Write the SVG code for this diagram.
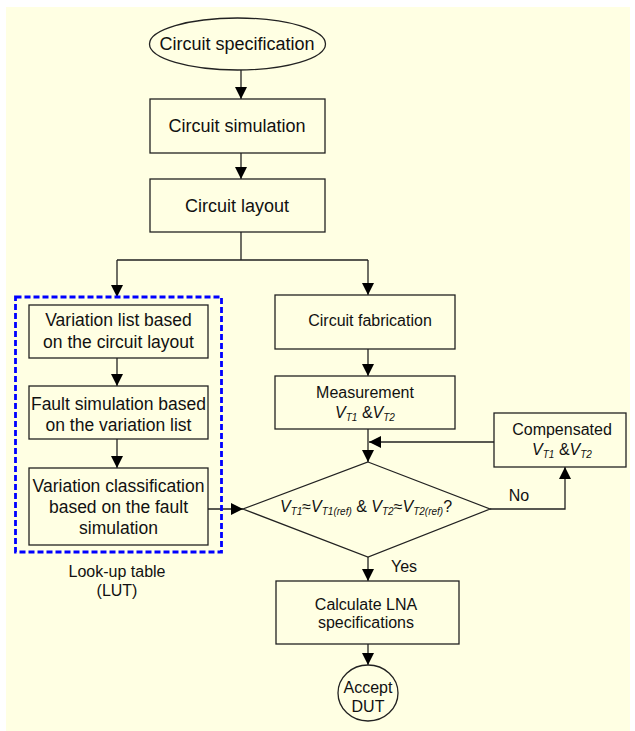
<svg xmlns="http://www.w3.org/2000/svg" width="635" height="731" viewBox="0 0 635 731">
<defs>
<marker id="arr" markerUnits="userSpaceOnUse" markerWidth="12" markerHeight="12" refX="12" refY="6" orient="auto">
<path d="M0,0 L12,6 L0,12 z" fill="#000"/>
</marker>
<style>
.s{fill:none;stroke:#222;stroke-width:1.3}
.c{fill:none;stroke:#222;stroke-width:1.3}
.a{marker-end:url(#arr)}
text{font-family:"Liberation Sans",Arial,sans-serif;fill:#111;text-anchor:middle}
.t18{font-size:18px}
.t17{font-size:17.5px}
.t16{font-size:16px}
.v{font-style:italic}
.sub{font-size:10px;font-style:italic}
</style>
</defs>
<rect x="6" y="7" width="624" height="724" fill="#FFFFE3"/>
<g id="connectors">
<path class="c a" d="M241,70 V99"/>
<path class="c a" d="M241,153 V179"/>
<path class="c" d="M241,232 V260 M117,260 H368"/>
<path class="c a" d="M117,260 V297"/>
<path class="c a" d="M368,260 V295"/>
<path class="c a" d="M117,358 V386"/>
<path class="c a" d="M117,439 V468"/>
<path class="c a" d="M208,509 H243"/>
<path class="c a" d="M368,349 V376"/>
<path class="c a" d="M368,429 V462"/>
<path class="c a" d="M494,442 H369"/>
<path class="c a" d="M490,509 H565 V467"/>
<path class="c a" d="M368,557 V581"/>
<path class="c a" d="M368,644 V665"/>
</g>
<g id="lut">
<rect x="15.5" y="297" width="206" height="255" fill="none" stroke="#0000FF" stroke-width="2.8" stroke-dasharray="6 3"/>
<text class="t16" x="117" y="576.5">Look-up table</text>
<text class="t16" x="117" y="595.5">(LUT)</text>
</g>
<g id="spec">
<ellipse class="s" cx="237.5" cy="44" rx="88" ry="26"/>
<text class="t18" x="237" y="50">Circuit specification</text>
</g>
<g id="sim">
<rect class="s" x="150" y="99" width="175" height="54"/>
<text class="t18" x="237" y="132">Circuit simulation</text>
</g>
<g id="layout">
<rect class="s" x="150" y="179" width="175" height="53"/>
<text class="t18" x="237" y="212">Circuit layout</text>
</g>
<g id="varlist">
<rect class="s" x="29" y="305" width="179" height="53"/>
<text class="t17" x="118.5" y="326">Variation list based</text>
<text class="t17" x="118.5" y="348">on the circuit layout</text>
</g>
<g id="faultsim">
<rect class="s" x="29" y="386" width="179" height="53"/>
<text class="t17" x="118.5" y="409.5">Fault simulation based</text>
<text class="t17" x="118.5" y="430.5">on the variation list</text>
</g>
<g id="varclass">
<rect class="s" x="29" y="468" width="179" height="77"/>
<text class="t17" x="118.5" y="492">Variation classification</text>
<text class="t17" x="118.5" y="513">based on the fault</text>
<text class="t17" x="118.5" y="534">simulation</text>
</g>
<g id="fab">
<rect class="s" x="275" y="295" width="180" height="54"/>
<text class="t16" x="370" y="326">Circuit fabrication</text>
</g>
<g id="meas">
<rect class="s" x="275" y="376" width="180" height="53"/>
<text class="t16" x="365" y="397.5">Measurement</text>
<text class="t16" x="365" y="418"><tspan class="v">V</tspan><tspan class="sub" dy="3">T1</tspan><tspan dy="-3"> &amp;</tspan><tspan class="v">V</tspan><tspan class="sub" dy="3">T2</tspan></text>
</g>
<g id="comp">
<rect class="s" x="494" y="413" width="132" height="54"/>
<text class="t16" x="562" y="435">Compensated</text>
<text class="t16" x="562" y="455"><tspan class="v">V</tspan><tspan class="sub" dy="3">T1</tspan><tspan dy="-3"> &amp;</tspan><tspan class="v">V</tspan><tspan class="sub" dy="3">T2</tspan></text>
</g>
<g id="decision">
<path class="s" d="M368,462 L490,509 L368,557 L243,509 Z"/>
<text class="t16" x="366" y="512"><tspan class="v">V</tspan><tspan class="sub" dy="3">T1</tspan><tspan dy="-3">≈</tspan><tspan class="v">V</tspan><tspan class="sub" dy="3">T1(ref)</tspan><tspan dy="-3"> &amp; </tspan><tspan class="v">V</tspan><tspan class="sub" dy="3">T2</tspan><tspan dy="-3">≈</tspan><tspan class="v">V</tspan><tspan class="sub" dy="3">T2(ref)</tspan><tspan dy="-3">?</tspan></text>
<text class="t16" x="519" y="501">No</text>
<text class="t16" x="404" y="572">Yes</text>
</g>
<g id="calc">
<rect class="s" x="276" y="581" width="183" height="63"/>
<text class="t16" x="366" y="610">Calculate LNA</text>
<text class="t16" x="366" y="628">specifications</text>
</g>
<g id="accept">
<ellipse class="s" cx="368" cy="693" rx="30" ry="28"/>
<text class="t16" x="368" y="693">Accept</text>
<text class="t16" x="368" y="712">DUT</text>
</g>
</svg>
